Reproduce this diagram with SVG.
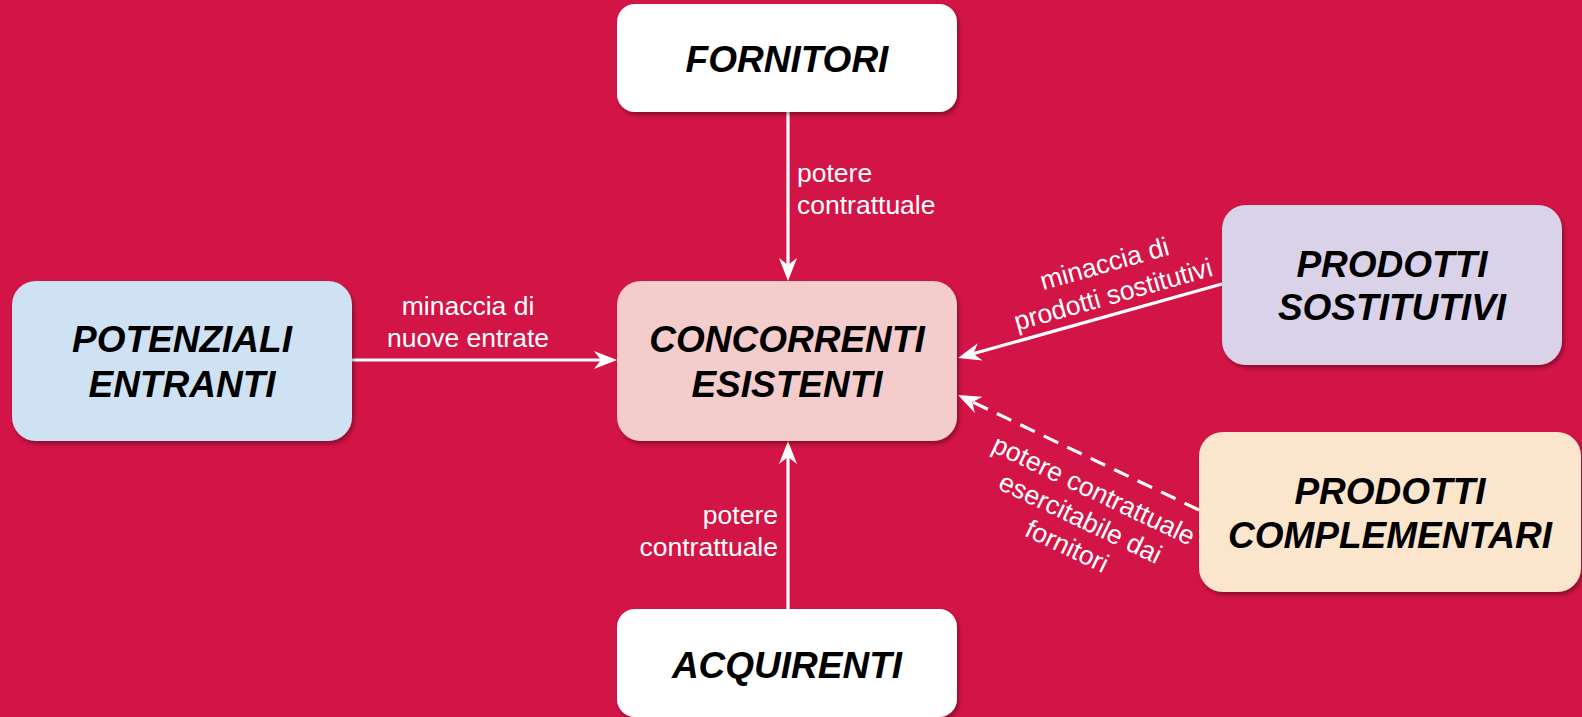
<svg xmlns="http://www.w3.org/2000/svg" width="1582" height="717" viewBox="0 0 1582 717">
  <style>
    .node-label { font-family: "Liberation Sans", Arial, sans-serif; font-size: 37px; font-weight: bold; font-style: italic; fill: #000; text-anchor: middle; }
    .edge-label { font-family: "Liberation Sans", Arial, sans-serif; font-size: 26.5px; fill: #fff; }
    .edge { stroke: #fff; stroke-width: 3.2; fill: none; }
    .dashed { stroke-dasharray: 16 10; }
    .box { filter: url(#shadow); }
  </style>
  <defs>
    <filter id="shadow" x="-10%" y="-10%" width="125%" height="130%">
      <feDropShadow dx="2" dy="3" stdDeviation="2" flood-color="#000" flood-opacity="0.35"/>
    </filter>
    <marker id="arrow" markerUnits="userSpaceOnUse" markerWidth="26" markerHeight="20" viewBox="-24 -10 26 20" refX="-10" refY="0" orient="auto">
      <path d="M0,0 L-23,-9 L-16,0 L-23,9 Z" fill="#fff"/>
    </marker>
  </defs>
  <rect x="0" y="0" width="1582" height="717" fill="#D31446"/>

  <g id="connectors">
    <line class="edge" x1="788" y1="112" x2="788" y2="271" marker-end="url(#arrow)"/>
    <line class="edge" x1="788" y1="609" x2="788" y2="451" marker-end="url(#arrow)"/>
    <line class="edge" x1="352" y1="360" x2="607" y2="360" marker-end="url(#arrow)"/>
    <line class="edge" x1="1222" y1="284" x2="967.6" y2="355.3" marker-end="url(#arrow)"/>
    <line class="edge dashed" x1="1199" y1="510" x2="967" y2="399.3" marker-end="url(#arrow)"/>

    <text class="edge-label" x="797" y="182">potere</text>
    <text class="edge-label" x="797" y="214">contrattuale</text>

    <text class="edge-label" x="778" y="524" text-anchor="end">potere</text>
    <text class="edge-label" x="778" y="556" text-anchor="end">contrattuale</text>

    <text class="edge-label" x="468" y="315" text-anchor="middle">minaccia di</text>
    <text class="edge-label" x="468" y="347" text-anchor="middle">nuove entrate</text>

    <g transform="translate(1109,280) rotate(-15.7)">
      <text class="edge-label" x="0" y="-8" text-anchor="middle">minaccia di</text>
      <text class="edge-label" x="0" y="24" text-anchor="middle">prodotti sostitutivi</text>
    </g>

    <g transform="translate(1080,519) rotate(25.5)">
      <text class="edge-label" x="0" y="-23" text-anchor="middle">potere contrattuale</text>
      <text class="edge-label" x="0" y="8" text-anchor="middle">esercitabile dai</text>
      <text class="edge-label" x="0" y="39" text-anchor="middle">fornitori</text>
    </g>
  </g>

  <g id="fornitori">
    <rect class="box" x="617" y="4" width="340" height="108" rx="18" fill="#FFFFFF"/>
    <text class="node-label" x="787" y="72">FORNITORI</text>
  </g>

  <g id="potenziali-entranti">
    <rect class="box" x="12" y="281" width="340" height="160" rx="24" fill="#CFE2F3"/>
    <text class="node-label" x="182" y="352">POTENZIALI</text>
    <text class="node-label" x="182" y="397">ENTRANTI</text>
  </g>

  <g id="concorrenti-esistenti">
    <rect class="box" x="617" y="281" width="340" height="160" rx="24" fill="#F4CCCC"/>
    <text class="node-label" x="787" y="352">CONCORRENTI</text>
    <text class="node-label" x="787" y="397">ESISTENTI</text>
  </g>

  <g id="prodotti-sostitutivi">
    <rect class="box" x="1222" y="205" width="340" height="160" rx="24" fill="#D9D2E9"/>
    <text class="node-label" x="1392" y="277">PRODOTTI</text>
    <text class="node-label" x="1392" y="320">SOSTITUTIVI</text>
  </g>

  <g id="prodotti-complementari">
    <rect class="box" x="1199" y="432" width="382" height="160" rx="24" fill="#FCE5CD"/>
    <text class="node-label" x="1390" y="504">PRODOTTI</text>
    <text class="node-label" x="1390" y="548">COMPLEMENTARI</text>
  </g>

  <g id="acquirenti">
    <rect class="box" x="617" y="609" width="340" height="108" rx="18" fill="#FFFFFF"/>
    <text class="node-label" x="787" y="678">ACQUIRENTI</text>
  </g>
</svg>
